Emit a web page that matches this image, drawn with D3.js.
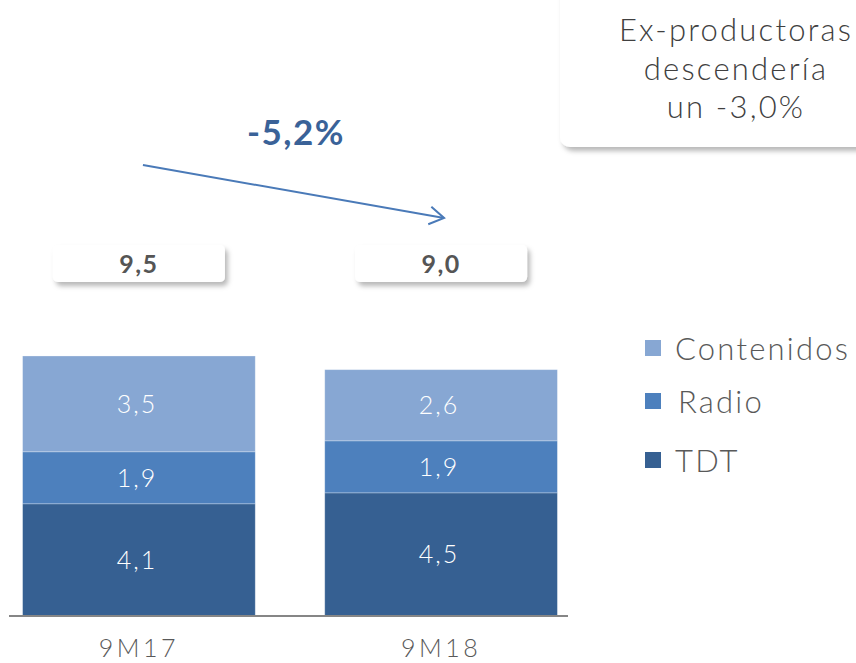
<!DOCTYPE html>
<html>
<head>
<meta charset="utf-8">
<script src="https://cdn.jsdelivr.net/npm/d3@7"></script>
<style>
    body { margin: 0; background: #fff; }
    svg { display: block; font-family: "Lato", "DejaVu Sans", sans-serif; }
</style>
</head>
<body>
<div id="chart"></div>
<script>

// data
let categories = ["9M17", "9M18"];
let seriesNames = ["TDT", "Radio", "Contenidos"];
let tdt = [4.1, 4.5];
let radio = [1.9, 1.9];
let contenidos = [3.5, 2.6];
let changeLabel = "-5,2%";
let noteLines = ["Ex-productoras", "descendería", "un -3,0%"];
let legendOrder = ["Contenidos", "Radio", "TDT"];

let colors = {TDT: "#366092", Radio: "#4d80bd", Contenidos: "#87a7d3"};

let fmt = v => d3.format(".1f")(v).replace(".", ",");

let width = 856, height = 663;

let svg = d3.select("#chart").append("svg")
    .attr("width", width)
    .attr("height", height);

// shadow filter
let defs = svg.append("defs");
let shadow = defs.append("filter")
    .attr("id", "shadow")
    .attr("x", "-20%").attr("y", "-40%")
    .attr("width", "150%").attr("height", "200%");
shadow.append("feDropShadow")
    .attr("dx", 3).attr("dy", 4)
    .attr("stdDeviation", 2.5)
    .attr("flood-color", "#000")
    .attr("flood-opacity", 0.28);

// table for stacking
let table = categories.map((c, i) => ({
    cat: c, TDT: tdt[i], Radio: radio[i], Contenidos: contenidos[i]
}));
let stacked = d3.stack().keys(seriesNames)(table);

// scales
let x = d3.scaleBand()
    .domain(categories)
    .range([9, 571])
    .paddingInner(0.23)
    .paddingOuter(0.045);

let y = d3.scaleLinear()
    .domain([0, 10])
    .range([616, 342.3]);

// bars
let layers = svg.selectAll(".layer")
    .data(stacked)
    .enter().append("g")
    .attr("class", "layer")
    .attr("fill", d => colors[d.key]);

layers.selectAll("rect")
    .data(d => d.map(p => ({key: d.key, p: p})))
    .enter().append("rect")
    .attr("x", d => x(d.p.data.cat))
    .attr("y", d => y(d.p[1]))
    .attr("width", x.bandwidth())
    .attr("height", d => y(d.p[0]) - y(d.p[1]))
    .attr("stroke", "#fff")
    .attr("stroke-opacity", 0.35)
    .attr("stroke-width", 0.8);

layers.selectAll("text")
    .data(d => d.map(p => ({key: d.key, p: p})))
    .enter().append("text")
    .attr("x", d => x(d.p.data.cat) + x.bandwidth() / 2 - 2)
    .attr("y", d => (y(d.p[0]) + y(d.p[1])) / 2 + 9)
    .attr("text-anchor", "middle")
    .attr("fill", "#fff")
    .attr("font-size", 25)
    .attr("font-weight", 300)
    .attr("letter-spacing", 2)
    .text(d => fmt(d.p[1] - d.p[0]));

// baseline axis
let xAxis = d3.axisBottom(x).tickSize(0).tickPadding(23);
let axisGroup = svg.append("g")
    .attr("class", "x-axis axis")
    .attr("transform", `translate(0, ${y(0)})`)
    .call(xAxis);
axisGroup.select(".domain")
    .attr("d", `M9,0H568`)
    .attr("stroke", "#868686")
    .attr("stroke-width", 2);
axisGroup.selectAll("text")
    .attr("font-size", 25)
    .attr("font-weight", 300)
    .attr("letter-spacing", 3.5)
    .attr("fill", "#595959")
    .attr("font-family", "Lato, DejaVu Sans, sans-serif");

// totals boxes
let totals = table.map(d => ({cat: d.cat, total: d.TDT + d.Radio + d.Contenidos}));
let totalG = svg.selectAll(".total")
    .data(totals)
    .enter().append("g")
    .attr("class", "total")
    .attr("transform", d => `translate(${x(d.cat) + x.bandwidth() / 2}, 263.5)`);
totalG.append("rect")
    .attr("x", -86).attr("y", -18.5)
    .attr("width", 172).attr("height", 37)
    .attr("rx", 5)
    .attr("fill", "#fff")
    .attr("filter", "url(#shadow)");
totalG.append("text")
    .attr("text-anchor", "middle")
    .attr("x", 0)
    .attr("y", 9)
    .attr("font-size", 25)
    .attr("font-weight", 700)
    .attr("letter-spacing", 1.5)
    .attr("fill", "#555")
    .text(d => fmt(d.total));

// change arrow
let x0 = x(categories[0]) + x.bandwidth() / 2 + 4;
let x1 = x(categories[1]) + x.bandwidth() / 2 + 3;
let arrowColor = "#4a7ab8";
svg.append("line")
    .attr("x1", x0).attr("y1", 165)
    .attr("x2", x1).attr("y2", 218)
    .attr("stroke", arrowColor)
    .attr("stroke-width", 2);
let ang = Math.atan2(218 - 165, x1 - x0);
let headLen = 17, spread = 0.55;
svg.append("path")
    .attr("d", `M${x1 - headLen * Math.cos(ang - spread)},${218 - headLen * Math.sin(ang - spread)}
                L${x1},218
                L${x1 - headLen * Math.cos(ang + spread)},${218 - headLen * Math.sin(ang + spread)}`)
    .attr("fill", "none")
    .attr("stroke", arrowColor)
    .attr("stroke-width", 2);

svg.append("text")
    .attr("x", 296).attr("y", 145)
    .attr("text-anchor", "middle")
    .attr("font-size", 35)
    .attr("font-weight", 700)
    .attr("letter-spacing", 1.5)
    .attr("fill", "#3a6298")
    .text(changeLabel);

// note box top right
svg.append("rect")
    .attr("x", 560).attr("y", -20)
    .attr("width", 320).attr("height", 167)
    .attr("rx", 10)
    .attr("fill", "#fff")
    .attr("filter", "url(#shadow)");
svg.append("text")
    .attr("text-anchor", "middle")
    .attr("font-size", 31)
    .attr("font-weight", 300)
    .attr("letter-spacing", 2.2)
    .attr("fill", "#404040")
    .selectAll("tspan")
    .data(noteLines)
    .enter().append("tspan")
    .attr("x", 736)
    .attr("y", (d, i) => 41 + i * 38.5)
    .text(d => d);

// legend
let legendY = [348, 401, 460];
let legend = svg.selectAll(".legend")
    .data(legendOrder)
    .enter().append("g")
    .attr("class", "legend")
    .attr("transform", (d, i) => `translate(645, ${legendY[i]})`);
legend.append("rect")
    .attr("y", -8)
    .attr("width", 16).attr("height", 16)
    .attr("fill", d => colors[d]);
legend.append("text")
    .attr("x", (d, i) => i === 1 ? 33 : 30)
    .attr("y", 12)
    .attr("font-size", 31)
    .attr("font-weight", 300)
    .attr("letter-spacing", 2.2)
    .attr("fill", "#595959")
    .text(d => d);

</script>
</body>
</html>
